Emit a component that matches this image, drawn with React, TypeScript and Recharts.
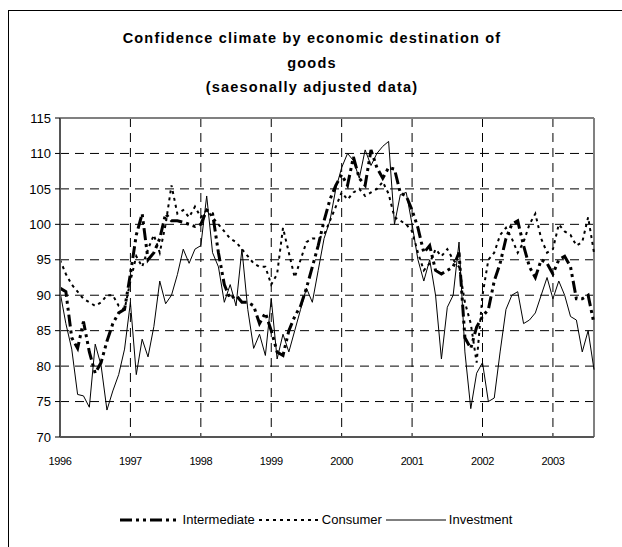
import { LineChart, Line, XAxis, YAxis, CartesianGrid, ReferenceLine } from 'recharts';

// monthly values, Jan 1996 .. Aug 2003
const intermediate = [
  91, 90.5, 84, 82.5, 86.3, 82, 79, 80.5, 83.5, 86, 87.5, 88,
  93, 98.5, 101.5, 95, 96, 98, 101.5, 100.5, 100.5, 100.3, 100, 99.7,
  100, 102, 101.5, 96, 91.5, 89.5, 90, 89, 89, 88.5, 86, 87.5,
  85, 82, 81.5, 85, 87, 88.5, 91, 94, 97, 100.5, 103.5, 105.5,
  107, 105.5, 109.5, 106.5, 105.5, 110.5, 108, 106.5, 108, 107.8, 104.4, 104,
  102, 99.5, 96, 97, 93.5, 93, 93.5, 94, 96, 84, 82.5, 85.5,
  87, 88, 92, 94.5, 98, 100, 100.5, 97, 94, 92.5, 95, 94.5,
  93, 95, 95.5, 94, 89.5, 89.5, 90, 86,
];

const consumer = [
  95, 93, 91.5, 90.5, 89.5, 89, 88.5, 89, 90, 90, 88.5, 88,
  92, 95.5, 94, 96.5, 98.5, 96, 100, 105.5, 101.5, 102, 101, 102.5,
  101, 102, 101, 100, 99, 98, 97.5, 96.5, 95.5, 94.5, 94, 94,
  91.5, 93, 99.5, 96, 92.5, 95, 97.5, 98, 98, 98.5, 100.5, 102.5,
  104.5, 103.5, 104.5, 105, 104, 104.5, 105, 106, 104.3, 101, 100.5, 100,
  99, 96, 93.5, 94.5, 96.5, 95.5, 96.5, 95, 94, 89, 86, 80.5,
  90, 95, 96, 98.5, 99.5, 98, 96, 97.5, 100, 101.5, 98, 96,
  96.5, 100, 99, 98.5, 97, 97.5, 101, 96,
];

const investment = [
  90.5, 86, 82.4, 76, 75.8, 74.2, 83.1, 80.1, 73.8, 76.5, 78.8, 82.4,
  89, 78.8, 83.8, 81.3, 85.6, 92, 88.8, 90, 92.9, 96.5, 94.5, 96.5,
  97, 104, 96, 94, 89, 91.5, 88.5, 96.5, 88, 82.5, 84.5, 81.5,
  89.5, 81, 84.5, 82, 85, 88, 91, 89, 93.5, 98, 100.5, 105,
  108, 110, 109, 106.5, 110.5, 108.3, 110, 111, 111.7, 100, 104.2, 104.5,
  100, 95, 92, 95, 90, 81, 88.3, 90, 97.5, 82, 74, 79,
  80.5, 75, 75.5, 82, 88, 90, 90.5, 86, 86.5, 87.5, 90, 92.5,
  89.5, 92, 90, 87, 86.5, 82, 85, 79.5,
];

const yearTicks = [0, 12, 24, 36, 48, 60, 72, 84];
const yearLabels = ['1996', '1997', '1998', '1999', '2000', '2001', '2002', '2003'];
const valueTicks = [70, 75, 80, 85, 90, 95, 100, 105, 110, 115];

const seriesNames = ['Intermediate', 'Consumer', 'Investment'];

const data = intermediate.map((v, i) => ({
  t: i,
  Intermediate: v,
  Consumer: consumer[i],
  Investment: investment[i],
}));

const FONT = '"Liberation Sans", Arial, sans-serif';

const LegendSample = ({ kind }: { kind: number }) => {
  const dash = kind === 0 ? '12 4 3 4 3 4' : kind === 1 ? '3 4' : undefined;
  const w = kind === 0 ? 3 : kind === 1 ? 2 : 1;
  return (
    <svg width={60} height={10} style={{ verticalAlign: 'middle' }}>
      <line x1={0} y1={5} x2={60} y2={5} stroke="#000" strokeWidth={w} strokeDasharray={dash} />
    </svg>
  );
};

export default function App() {
  return (
    <div style={{ position: 'absolute', left: 0, top: 0, width: 622, height: 547, overflow: 'hidden', background: '#fff', fontFamily: FONT }}>
      <div style={{ position: 'absolute', left: 8, top: 10, width: 800, height: 800, borderLeft: '1px solid #000', borderTop: '1px solid #000' }} />
      <div
        style={{
          position: 'absolute', left: 8, top: 26, width: 608, textAlign: 'center',
          fontSize: 14.5, fontWeight: 'bold', letterSpacing: 1.2, lineHeight: '24.5px', color: '#000',
        }}
      >
        <div>Confidence climate by economic destination of</div>
        <div>goods</div>
        <div>(saesonally adjusted data)</div>
      </div>
      <div style={{ position: 'absolute', left: 0, top: 0 }}>
        <LineChart width={622} height={547} data={data} margin={{ top: 118, right: 28, bottom: 80, left: 10 }}>
          <CartesianGrid stroke="#000" strokeDasharray="9 6" vertical horizontal />
          <XAxis
            dataKey="t"
            type="number"
            domain={[0, 91]}
            ticks={yearTicks}
            tickFormatter={(v: number) => yearLabels[yearTicks.indexOf(v)]}
            height={30}
            tickLine={false}
            tickMargin={14}
            axisLine={{ stroke: '#555', strokeWidth: 2 }}
            tick={{ fontSize: 11, fill: '#000', fontFamily: FONT, letterSpacing: -0.4 }}
          />
          <YAxis
            domain={[70, 115]}
            ticks={valueTicks}
            width={50}
            tickSize={5}
            tickMargin={4}
            tickLine={{ stroke: '#000' }}
            axisLine={{ stroke: '#555', strokeWidth: 2 }}
            tick={{ fontSize: 13, fill: '#000', fontFamily: FONT }}
            allowDataOverflow
          />
          <ReferenceLine y={115} stroke="#808080" strokeWidth={2} />
          <ReferenceLine x={91} stroke="#808080" strokeWidth={2} />
          <Line dataKey="Investment" stroke="#000" strokeWidth={1} dot={false} isAnimationActive={false} />
          <Line dataKey="Consumer" stroke="#000" strokeWidth={2} strokeDasharray="3 4" dot={false} isAnimationActive={false} />
          <Line dataKey="Intermediate" stroke="#000" strokeWidth={3} strokeDasharray="12 4 3 4 3 4" dot={false} isAnimationActive={false} />
        </LineChart>
      </div>
      <div
        style={{
          position: 'absolute', left: 14, top: 511, width: 608, textAlign: 'center',
          fontSize: 13, color: '#000', whiteSpace: 'nowrap',
        }}
      >
        {seriesNames.map((name, k) => (
          <span key={name} style={{ marginRight: 4 }}>
            <LegendSample kind={k} />
            <span style={{ marginLeft: 3, verticalAlign: 'middle' }}>{name}</span>
          </span>
        ))}
      </div>
    </div>
  );
}
